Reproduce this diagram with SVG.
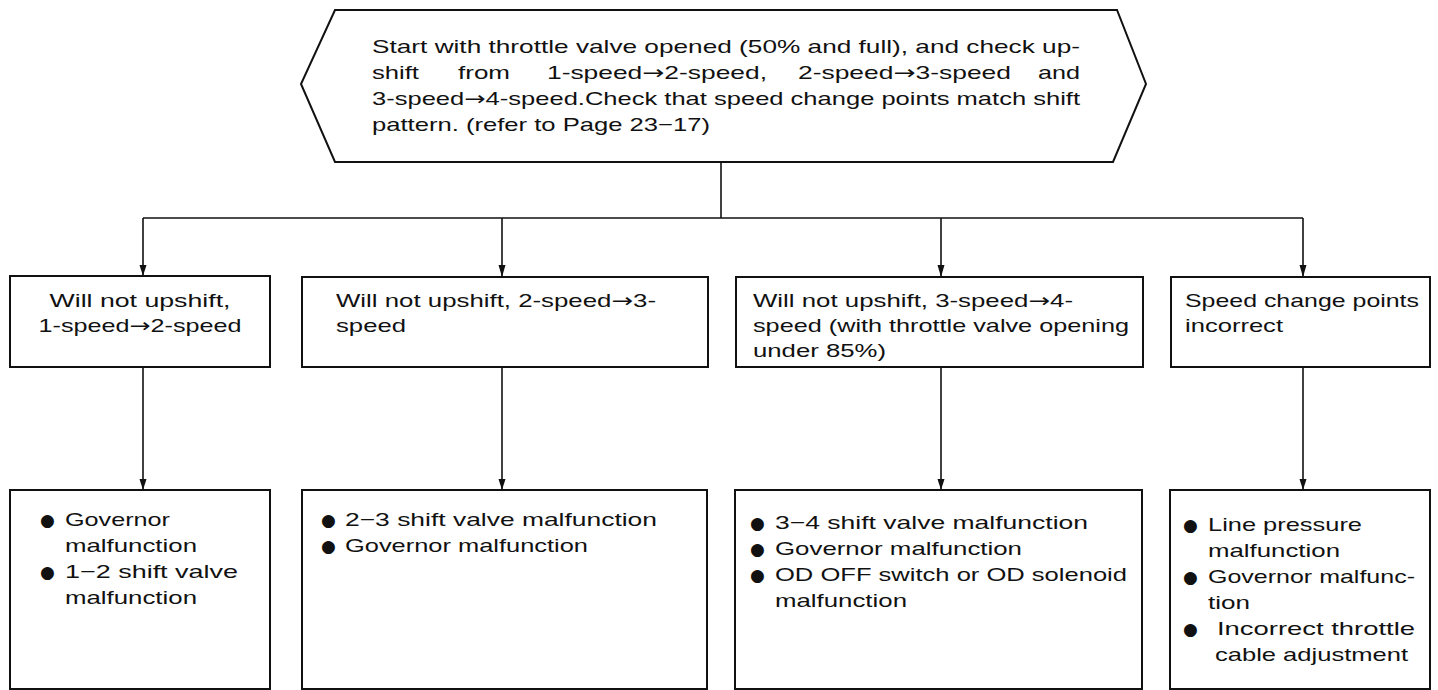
<svg xmlns="http://www.w3.org/2000/svg" width="1438" height="690" viewBox="0 0 1438 690">
<style>
.box{fill:#fff;stroke:#111;stroke-width:2}
.t{font-family:"Liberation Sans",Arial,sans-serif;font-size:19px;fill:#111}
.c{text-anchor:middle}
.a{font-family:"DejaVu Sans","Liberation Sans",sans-serif}
.b{font-family:"DejaVu Sans","Liberation Sans",sans-serif;font-size:17px;fill:#111}
.conn{fill:none;stroke:#111;stroke-width:1.6}
.ah{fill:#111}
</style>
<rect width="1438" height="690" fill="#fff"/>

<g id="connectors">
<path class="conn" d="M721,162 V218"/>
<path class="conn" d="M143,218 H1303"/>
<path class="conn" d="M143,218 V275"/>
<path class="conn" d="M502,218 V276"/>
<path class="conn" d="M941,218 V276"/>
<path class="conn" d="M1303,218 V276"/>
<path class="conn" d="M143,367 V489"/>
<path class="conn" d="M502,367 V489"/>
<path class="conn" d="M941,367 V489"/>
<path class="conn" d="M1303,367 V489"/>
<path class="ah" d="M139.5,265 L146.5,265 L143,276 z"/>
<path class="ah" d="M498.5,265 L505.5,265 L502,277 z"/>
<path class="ah" d="M937.5,265 L944.5,265 L941,277 z"/>
<path class="ah" d="M1299.5,265 L1306.5,265 L1303,277 z"/>
<path class="ah" d="M139.5,479 L146.5,479 L143,490 z"/>
<path class="ah" d="M498.5,479 L505.5,479 L502,490 z"/>
<path class="ah" d="M937.5,479 L944.5,479 L941,490 z"/>
<path class="ah" d="M1299.5,479 L1306.5,479 L1303,490 z"/>
</g>

<g id="start">
<polygon class="box" points="335,10 1117,10 1146,84 1113,162 335,162 301,84"/>
<text class="t" x="372" y="53" textLength="708" lengthAdjust="spacingAndGlyphs">Start with throttle valve opened (50% and full), and check up-</text>
<text class="t" x="372" y="79" textLength="47" lengthAdjust="spacingAndGlyphs">shift</text>
<text class="t" x="458" y="79" textLength="52" lengthAdjust="spacingAndGlyphs">from</text>
<text class="t" x="547" y="79" textLength="220" lengthAdjust="spacingAndGlyphs">1-speed<tspan class="a">→</tspan>2-speed,</text>
<text class="t" x="798" y="79" textLength="213" lengthAdjust="spacingAndGlyphs">2-speed<tspan class="a">→</tspan>3-speed</text>
<text class="t" x="1038" y="79" textLength="42" lengthAdjust="spacingAndGlyphs">and</text>
<text class="t" x="372" y="105" textLength="708" lengthAdjust="spacingAndGlyphs">3-speed<tspan class="a">→</tspan>4-speed.Check that speed change points match shift</text>
<text class="t" x="372" y="131" textLength="338" lengthAdjust="spacingAndGlyphs">pattern. (refer to Page 23−17)</text>
</g>

<g id="cond1">
<rect class="box" x="10" y="276" width="260" height="91"/>
<text class="t c" x="140" y="307" textLength="181" lengthAdjust="spacingAndGlyphs">Will not upshift,</text>
<text class="t c" x="140" y="332" textLength="203" lengthAdjust="spacingAndGlyphs">1-speed<tspan class="a">→</tspan>2-speed</text>
</g>

<g id="cond2">
<rect class="box" x="302" y="277" width="406" height="90"/>
<text class="t" x="336" y="307" textLength="320" lengthAdjust="spacingAndGlyphs">Will not upshift, 2-speed<tspan class="a">→</tspan>3-</text>
<text class="t" x="336" y="332" textLength="70" lengthAdjust="spacingAndGlyphs">speed</text>
</g>

<g id="cond3">
<rect class="box" x="736" y="277" width="407" height="90"/>
<text class="t" x="753" y="307" textLength="320" lengthAdjust="spacingAndGlyphs">Will not upshift, 3-speed<tspan class="a">→</tspan>4-</text>
<text class="t" x="753" y="332" textLength="376" lengthAdjust="spacingAndGlyphs">speed (with throttle valve opening</text>
<text class="t" x="753" y="357" textLength="133" lengthAdjust="spacingAndGlyphs">under 85%)</text>
</g>

<g id="cond4">
<rect class="box" x="1171" y="277" width="259" height="90"/>
<text class="t" x="1185" y="307" textLength="234" lengthAdjust="spacingAndGlyphs">Speed change points</text>
<text class="t" x="1185" y="332" textLength="98" lengthAdjust="spacingAndGlyphs">incorrect</text>
</g>

<g id="cause1">
<rect class="box" x="10" y="490" width="260" height="199"/>
<text class="b" x="40" y="526">●</text>
<text class="t" x="65" y="526" textLength="105" lengthAdjust="spacingAndGlyphs">Governor</text>
<text class="t" x="65" y="552" textLength="132" lengthAdjust="spacingAndGlyphs">malfunction</text>
<text class="b" x="40" y="578">●</text>
<text class="t" x="65" y="578" textLength="173" lengthAdjust="spacingAndGlyphs">1−2 shift valve</text>
<text class="t" x="65" y="604" textLength="132" lengthAdjust="spacingAndGlyphs">malfunction</text>
</g>

<g id="cause2">
<rect class="box" x="302" y="490" width="405" height="199"/>
<text class="b" x="321" y="526">●</text>
<text class="t" x="345" y="526" textLength="312" lengthAdjust="spacingAndGlyphs">2−3 shift valve malfunction</text>
<text class="b" x="321" y="552">●</text>
<text class="t" x="345" y="552" textLength="243" lengthAdjust="spacingAndGlyphs">Governor malfunction</text>
</g>

<g id="cause3">
<rect class="box" x="735" y="490" width="407" height="199"/>
<text class="b" x="750" y="529">●</text>
<text class="t" x="775" y="529" textLength="313" lengthAdjust="spacingAndGlyphs">3−4 shift valve malfunction</text>
<text class="b" x="750" y="555">●</text>
<text class="t" x="775" y="555" textLength="247" lengthAdjust="spacingAndGlyphs">Governor malfunction</text>
<text class="b" x="750" y="581">●</text>
<text class="t" x="775" y="581" textLength="352" lengthAdjust="spacingAndGlyphs">OD OFF switch or OD solenoid</text>
<text class="t" x="775" y="607" textLength="132" lengthAdjust="spacingAndGlyphs">malfunction</text>
</g>

<g id="cause4">
<rect class="box" x="1170" y="490" width="260" height="199"/>
<text class="b" x="1183" y="531">●</text>
<text class="t" x="1208" y="531" textLength="154" lengthAdjust="spacingAndGlyphs">Line pressure</text>
<text class="t" x="1208" y="557" textLength="132" lengthAdjust="spacingAndGlyphs">malfunction</text>
<text class="b" x="1183" y="583">●</text>
<text class="t" x="1208" y="583" textLength="207" lengthAdjust="spacingAndGlyphs">Governor malfunc-</text>
<text class="t" x="1208" y="609" textLength="42" lengthAdjust="spacingAndGlyphs">tion</text>
<text class="b" x="1183" y="635">●</text>
<text class="t" x="1217" y="635" textLength="198" lengthAdjust="spacingAndGlyphs">Incorrect  throttle</text>
<text class="t" x="1215" y="661" textLength="193" lengthAdjust="spacingAndGlyphs">cable adjustment</text>
</g>
</svg>
